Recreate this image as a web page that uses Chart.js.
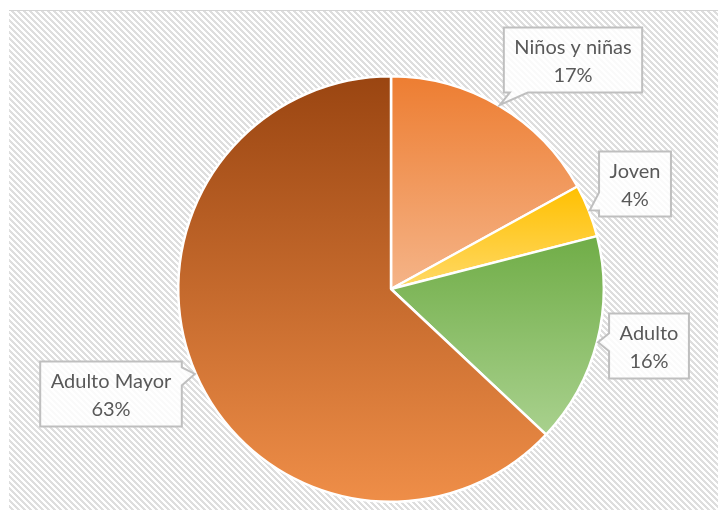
<!DOCTYPE html>
<html>
<head>
<meta charset="utf-8">
<script src="https://cdn.jsdelivr.net/npm/chart.js@4"></script>
<style>
    body { margin: 0; background: #fff; }
    #wrap { width: 718px; height: 510px; }
</style>
</head>
<body>
<div id="wrap"><canvas id="pieChart" width="718" height="510"></canvas></div>
<script>
const categories = ["Niños y niñas", "Joven", "Adulto", "Adulto Mayor"]
const shares = [17, 4, 16, 63]

// vertical gradient per slice: top colour -> bottom colour
const topColors = ["#ED7D31", "#FFC000", "#70AD47", "#9A4511"]
const bottomColors = ["#F5B488", "#FFD966", "#A9D18E", "#EF8E48"]

// callout boxes: centre of each box and the side its pointer leaves from
const boxCenters = [[573, 60], [635, 184], [649, 346], [111, 394]]
const pointerSides = ["bottom", "left", "left", "right"]

const total = shares.reduce((a, b) => a + b, 0)

function sliceGradient(ctx) {
    const chart = ctx.chart
    const i = ctx.dataIndex
    const area = chart.chartArea
    if (i === undefined || !area) return topColors[i || 0]
    const cx = (area.left + area.right) / 2
    const cy = (area.top + area.bottom) / 2
    const r = Math.min(area.width, area.height) / 2
    let before = 0
    for (let k = 0; k < i; k++) before += shares[k]
    const a0 = -Math.PI / 2 + 2 * Math.PI * before / total
    const a1 = -Math.PI / 2 + 2 * Math.PI * (before + shares[i]) / total
    const ys = [cy, cy + r * Math.sin(a0), cy + r * Math.sin(a1)]
    if (a0 < Math.PI / 2 && a1 > Math.PI / 2) ys.push(cy + r)
    const g = chart.ctx.createLinearGradient(0, Math.min(...ys), 0, Math.max(...ys))
    g.addColorStop(0, topColors[i])
    g.addColorStop(1, bottomColors[i])
    return g
}

// hatched backdrop behind the pie
const backdrop = {
    id: "backdrop",
    beforeDraw(chart) {
        const c = chart.ctx
        const tile = document.createElement("canvas")
        tile.width = 6
        tile.height = 6
        const t = tile.getContext("2d")
        t.fillStyle = "#ffffff"
        t.fillRect(0, 0, 6, 6)
        t.fillStyle = "#dedede"
        for (let y = 0; y < 6; y++) {
            for (let x = 0; x < 6; x++) {
                if (((x - y) % 6 + 6) % 6 < 3) t.fillRect(x, y, 1, 1)
            }
        }
        c.save()
        c.fillStyle = "#ffffff"
        c.fillRect(0, 0, chart.width, chart.height)
        c.fillStyle = c.createPattern(tile, "repeat")
        c.fillRect(9, 10, chart.width - 9, chart.height - 10)
        c.strokeStyle = "#d4d4d4"
        c.lineWidth = 1
        c.beginPath()
        c.moveTo(9, 10.5)
        c.lineTo(chart.width, 10.5)
        c.stroke()
        c.restore()
    }
}

// white callout boxes with a wedge pointing at the slice
const callouts = {
    id: "callouts",
    afterDatasetsDraw(chart) {
        const c = chart.ctx
        const arcs = chart.getDatasetMeta(0).data
        c.save()
        c.font = "20px Lato"
        c.textAlign = "center"
        c.textBaseline = "middle"
        arcs.forEach((arc, i) => {
            const mid = (arc.startAngle + arc.endAngle) / 2
            const tipX = arc.x + (arc.outerRadius + 1) * Math.cos(mid)
            const tipY = arc.y + (arc.outerRadius + 1) * Math.sin(mid)
            const line2 = Math.round(shares[i] / total * 100) + "%"
            const w = Math.max(c.measureText(categories[i]).width, c.measureText(line2).width) + 21
            const h = 65
            const x0 = boxCenters[i][0] - w / 2
            const x1 = x0 + w
            const y0 = boxCenters[i][1] - h / 2
            const y1 = y0 + h
            const hw = 9
            c.beginPath()
            if (pointerSides[i] === "left") {
                const m = Math.min(Math.max(tipY, y0 + 15), y1 - 15)
                c.moveTo(x0, y0)
                c.lineTo(x1, y0)
                c.lineTo(x1, y1)
                c.lineTo(x0, y1)
                c.lineTo(x0, m + hw)
                c.lineTo(tipX, tipY)
                c.lineTo(x0, m - hw)
            } else if (pointerSides[i] === "right") {
                const m = Math.min(Math.max(tipY, y0 + 15), y1 - 15)
                c.moveTo(x0, y0)
                c.lineTo(x1, y0)
                c.lineTo(x1, m - hw)
                c.lineTo(tipX, tipY)
                c.lineTo(x1, m + hw)
                c.lineTo(x1, y1)
                c.lineTo(x0, y1)
            } else {
                const m = Math.min(Math.max(tipX, x0 + 15), x1 - 15)
                c.moveTo(x0, y0)
                c.lineTo(x1, y0)
                c.lineTo(x1, y1)
                c.lineTo(m + hw, y1)
                c.lineTo(tipX, tipY)
                c.lineTo(m - hw, y1)
                c.lineTo(x0, y1)
            }
            c.closePath()
            c.fillStyle = "rgba(255,255,255,0.85)"
            c.fill()
            c.strokeStyle = "#bfbfbf"
            c.lineWidth = 2
            c.stroke()
            c.fillStyle = "#595959"
            c.fillText(categories[i], boxCenters[i][0], y0 + 20)
            c.fillText(line2, boxCenters[i][0], y0 + 48)
        })
        c.restore()
    }
}

const ctx = document.getElementById("pieChart").getContext("2d")
const pieChart = new Chart(ctx, {
    type: "pie",
    data: {
        labels: categories,
        datasets: [{
            data: shares,
            backgroundColor: sliceGradient,
            borderColor: "#ffffff",
            borderWidth: 2.5
        }]
    },
    options: {
        responsive: false,
        animation: false,
        layout: { padding: { left: 177, right: 113, top: 75, bottom: 7 } },
        plugins: {
            legend: { display: false },
            tooltip: { enabled: false }
        }
    },
    plugins: [backdrop, callouts]
})
</script>
</body>
</html>
